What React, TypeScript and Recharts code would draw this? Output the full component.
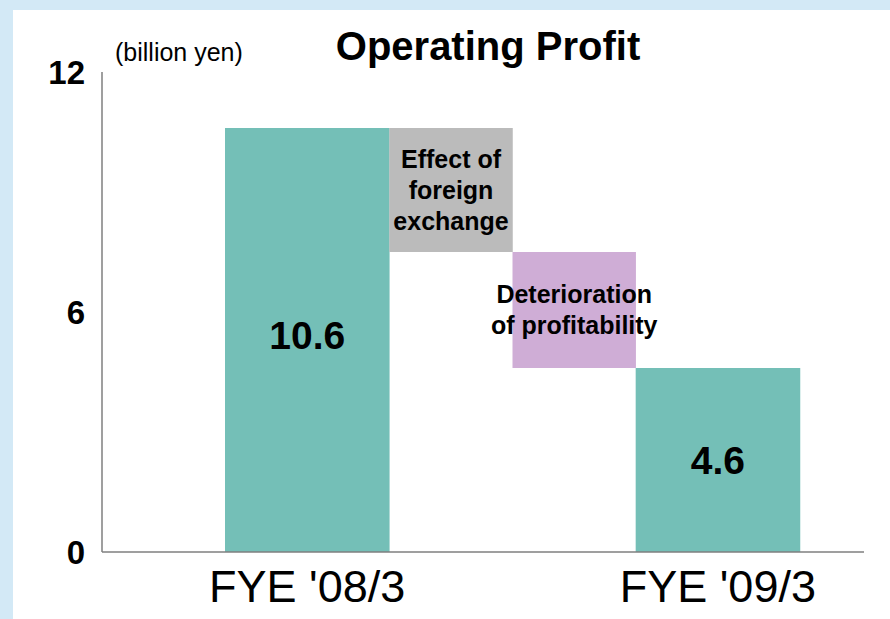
import React from 'react';
import { BarChart, Bar, XAxis, YAxis } from 'recharts';

// waterfall: each column spans [low, high] in billion yen
const categories = ["FYE '08/3", 'Effect of foreign exchange', 'Deterioration of profitability', "FYE '09/3"];
const barLow = [0, 7.5, 4.6, 0];
const barHigh = [10.6, 10.6, 7.5, 4.6];
const barKind = ['total', 'fx', 'change', 'total'];
const barText = [['10.6'], ['Effect of', 'foreign', 'exchange'], ['Deterioration', 'of profitability'], ['4.6']];
const yTicks = [0, 6, 12];

const FONT = '"Liberation Sans", Arial, sans-serif';
const W = 890;
const H = 619;
const MARGIN = { top: 72, right: 26, bottom: 6, left: 12 };
const Y_AXIS_W = 90;
const PAD = { left: 123, right: 64 };
// total columns are drawn a bit wider than the change columns
const COLUMN_WEIGHTS = [4, 3, 3, 4];

const COLORS: Record<string, string> = {
  total: '#74BFB7',
  fx: '#BBBBBB',
  change: '#CFADD6',
};

const chartData = categories.map((name, i) => ({
  name,
  range: [barLow[i], barHigh[i]],
}));

const totalWeight = COLUMN_WEIGHTS.reduce((a, b) => a + b, 0);

// map an equal band (left edge of first band + band width) to the weighted column
const columnSpan = (groupLeft: number, bandW: number, index: number) => {
  const unit = (bandW * COLUMN_WEIGHTS.length) / totalWeight;
  const before = COLUMN_WEIGHTS.slice(0, index).reduce((a, b) => a + b, 0);
  return { x: groupLeft + before * unit, width: COLUMN_WEIGHTS[index] * unit };
};

const WaterfallShape = (props: any) => {
  const { x, y, width, height, index } = props;
  const span = columnSpan(x - index * width, width, index);
  const kind = barKind[index];
  const lines = barText[index];
  const isTotal = kind === 'total';
  const fontSize = isTotal ? 39 : 25;
  const lineH = 31;
  const cx = span.x + span.width / 2;
  const cy = y + height / 2 - (isTotal && index === 0 ? 5 : 0);
  const firstY = cy - ((lines.length - 1) * lineH) / 2;
  return (
    <g>
      <rect x={span.x} y={y} width={span.width} height={height} fill={COLORS[kind]} />
      <text
        x={cx}
        textAnchor="middle"
        fontFamily={FONT}
        fontWeight="bold"
        fontSize={fontSize}
        fill="#000"
      >
        {lines.map((line, i) => (
          <tspan key={i} x={cx} y={firstY + i * lineH} dy="0.35em">
            {line}
          </tspan>
        ))}
      </text>
    </g>
  );
};

const plotW = W - MARGIN.left - MARGIN.right - Y_AXIS_W;
const bandW = (plotW - PAD.left - PAD.right) / categories.length;

const XTick = (props: any) => {
  const { x, y, payload } = props;
  const index = payload?.index ?? props.index;
  if (barKind[index] !== 'total') return null;
  const span = columnSpan(x - (index + 0.5) * bandW, bandW, index);
  return (
    <text
      x={span.x + span.width / 2}
      y={y}
      dy="0.71em"
      textAnchor="middle"
      fontFamily={FONT}
      fontSize={45}
      fill="#000"
    >
      {payload.value}
    </text>
  );
};

const YTick = (props: any) => {
  const { x, y, payload } = props;
  return (
    <text x={x} y={y} dy="0.36em" textAnchor="end" fontFamily={FONT} fontSize={33} fontWeight="bold" fill="#000">
      {payload.value}
    </text>
  );
};

export default function App() {
  return (
    <div style={{ position: 'absolute', left: 0, top: 0, width: W, height: H, background: '#D3E9F6' }}>
      <div style={{ position: 'absolute', left: 13, top: 10, width: W - 13, height: H - 10, background: '#ffffff' }} />
      <div style={{ position: 'absolute', left: 0, top: 0 }}>
        <BarChart width={W} height={H} data={chartData} margin={MARGIN} barCategoryGap={0}>
          <XAxis
            dataKey="name"
            interval={0}
            height={61}
            padding={PAD}
            axisLine={{ stroke: '#7f7f7f', strokeWidth: 1.5 }}
            tickLine={false}
            tickMargin={12}
            tick={<XTick />}
          />
          <YAxis
            width={Y_AXIS_W}
            domain={[0, 12]}
            ticks={yTicks}
            axisLine={{ stroke: '#7f7f7f', strokeWidth: 1.5 }}
            tickLine={false}
            tickMargin={11}
            tick={<YTick />}
          />
          <Bar dataKey="range" shape={<WaterfallShape />} isAnimationActive={false} />
        </BarChart>
      </div>
      <svg width={W} height={H} style={{ position: 'absolute', left: 0, top: 0, pointerEvents: 'none' }}>
        <text x={115} y={61} fontFamily={FONT} fontSize={25} fill="#000">
          (billion yen)
        </text>
        <text x={488} y={60} textAnchor="middle" fontFamily={FONT} fontSize={40} fontWeight="bold" fill="#000">
          Operating Profit
        </text>
      </svg>
    </div>
  );
}
